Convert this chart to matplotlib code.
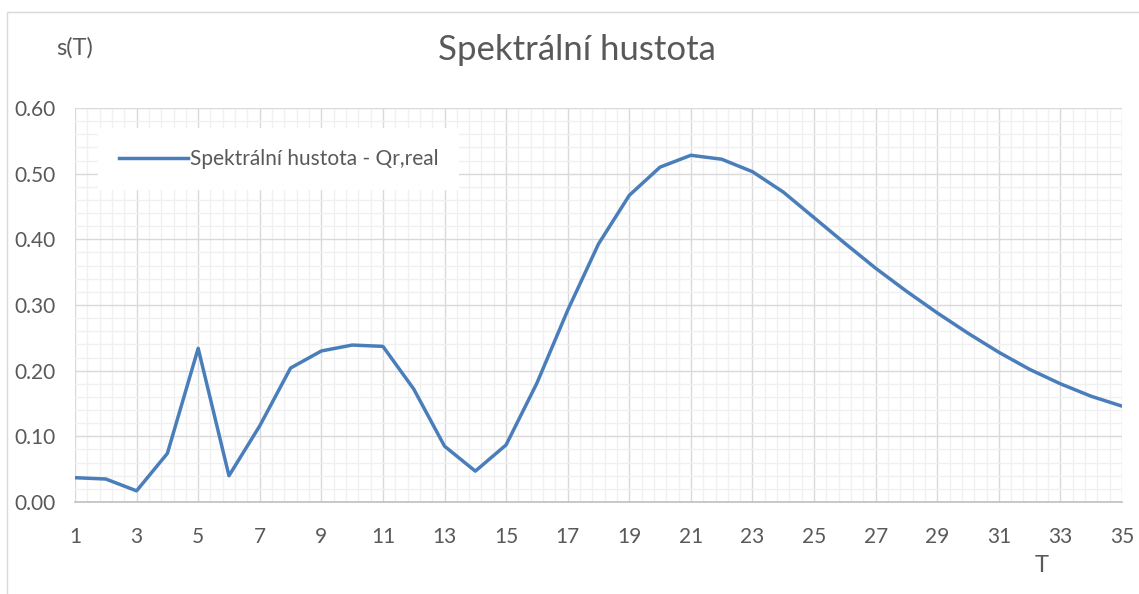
import matplotlib
matplotlib.use("Agg")
import matplotlib.pyplot as plt
import numpy as np
from matplotlib.patches import Rectangle
from matplotlib.ticker import FixedLocator, MultipleLocator, FormatStrFormatter

plt.rcParams["font.family"] = ["Lato", "DejaVu Sans"]

# data
periods = list(range(1, 36))
density = [
    0.037, 0.035, 0.017, 0.074, 0.234, 0.040, 0.116, 0.204, 0.230, 0.239,
    0.237, 0.172, 0.085, 0.047, 0.087, 0.181, 0.292, 0.393, 0.467, 0.510,
    0.528, 0.522, 0.503, 0.472, 0.433, 0.394, 0.356, 0.321, 0.288, 0.257,
    0.228, 0.202, 0.180, 0.161, 0.146,
]
series_label = "Spektrální hustota - Qr,real"
title = "Spektrální hustota"

TXT = "#595959"
MAJ = "#d9d9d9"
MIN = "#f0f0f0"

fig = plt.figure(figsize=(11.39, 5.94), dpi=100)
ax = fig.add_axes([75 / 1139, 1 - 502 / 594, (1122 - 75) / 1139, (502 - 108) / 594])

# chart frame (cut off at right/bottom like the screenshot)
fig.patches.append(Rectangle((7 / 1139, -0.1), 1.2, 1 - 12 / 594 + 0.1,
                             transform=fig.transFigure, fill=False,
                             edgecolor=MAJ, linewidth=1.0))

ax.plot(periods, density, color="#4a7ebb", linewidth=2.5, label=series_label,
        solid_joinstyle="round", zorder=3)

ax.set_xlim(1, 35)
ax.set_ylim(0, 0.6)
ax.xaxis.set_major_locator(FixedLocator(np.arange(1, 36, 2)))
ax.xaxis.set_minor_locator(FixedLocator(np.arange(1, 35.01, 0.4)))
ax.yaxis.set_major_locator(MultipleLocator(0.1))
ax.yaxis.set_minor_locator(MultipleLocator(0.02))
ax.yaxis.set_major_formatter(FormatStrFormatter("%.2f"))

ax.grid(which="minor", color=MIN, linewidth=1.0, zorder=0)
ax.grid(which="major", color=MAJ, linewidth=1.0, zorder=1)
ax.set_axisbelow(True)

for s in ["top", "right", "left"]:
    ax.spines[s].set_visible(False)
ax.spines["bottom"].set_color("#bfbfbf")
ax.spines["bottom"].set_linewidth(1.2)

ax.tick_params(which="both", length=0, colors=TXT, labelsize=15)
ax.tick_params(axis="x", pad=18)
ax.tick_params(axis="y", pad=14)

fig.text(577 / 1139, 1 - 50 / 594, title, ha="center", va="center",
         fontsize=25, color=TXT)
fig.text(75 / 1139, 1 - 48 / 594, "s(T)", ha="center", va="center",
         fontsize=17, color=TXT)
fig.text(1042 / 1139, 1 - 566 / 594, "T", ha="center", va="center",
         fontsize=17, color=TXT)

leg = ax.legend(loc="upper left", bbox_to_anchor=(23 / 1047, 1 - 20 / 394),
                frameon=True, fontsize=15, handlelength=3.3, handletextpad=0.1,
                borderpad=1.0, borderaxespad=0)
leg.get_frame().set_facecolor("white")
leg.get_frame().set_edgecolor("none")
leg.get_frame().set_alpha(1)
leg.get_frame().set_boxstyle("square", pad=0)
for t in leg.get_texts():
    t.set_color(TXT)

fig.savefig("out.png", dpi=100)
